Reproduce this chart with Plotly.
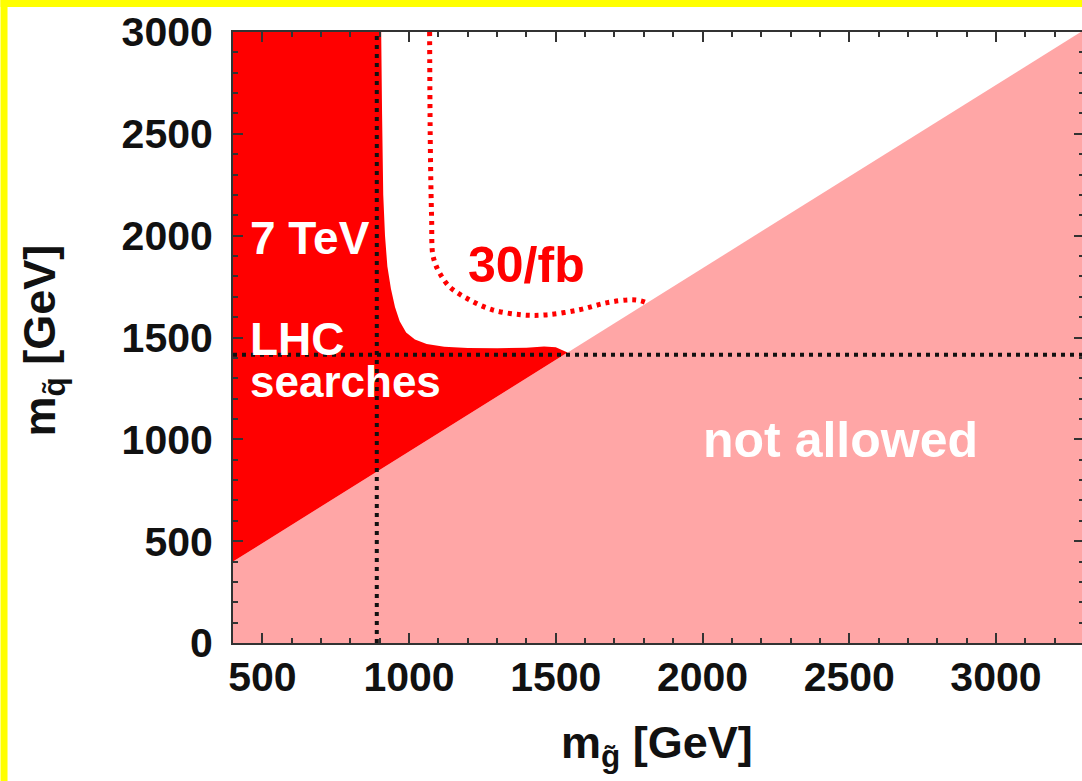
import plotly.graph_objects as go

# ---------------- data ----------------
# boundary of the kinematically "not allowed" region (m_squark vs m_gluino line)
diag_mg = [400, 3300]
diag_mq = [400, 3010]

# 7 TeV LHC exclusion boundary (gluino mass, squark mass)
lhc_mg = [905, 908, 912, 918, 926, 938, 952, 968, 990, 1020, 1060, 1120, 1200, 1300, 1400, 1460, 1500, 1540]
lhc_mq = [3000, 2600, 2200, 2000, 1850, 1740, 1650, 1580, 1525, 1490, 1468, 1455, 1449, 1447, 1450, 1456, 1452, 1426]

# 30/fb projected reach
fb30_mg = [1070, 1072, 1075, 1077, 1080, 1090, 1104, 1138, 1206, 1284, 1386, 1468, 1580, 1672, 1750, 1790, 1818]
fb30_mq = [3000, 2500, 2200, 2077, 1915, 1860, 1817, 1749, 1685, 1636, 1611, 1611, 1636, 1670, 1685, 1680, 1665]

# reference lines
ref_mg = 890
ref_mq = 1415

x_range = [400, 3300]
y_range = [0, 3000]
x_ticks = [500, 1000, 1500, 2000, 2500, 3000]
y_ticks = [0, 500, 1000, 1500, 2000, 2500, 3000]

# ---------------- styling ----------------
W, H = 1090, 781          # figure is slightly wider than the 1082 px window (cropped on the right)
ML, MR, MT, MB = 233, 4, 32, 138
RED = "#FF0000"
PINK = "#FFA6A6"
FONT = "Liberation Sans, Arial, Helvetica, sans-serif"

fig = go.Figure()

# not-allowed region (below the diagonal)
fig.add_trace(go.Scatter(
    x=[diag_mg[0]] + diag_mg + [diag_mg[-1]],
    y=[0] + diag_mq + [0],
    fill="toself", fillcolor=PINK, line=dict(width=0), mode="lines",
    hoverinfo="skip", showlegend=False))

# 7 TeV excluded region
fig.add_trace(go.Scatter(
    x=[x_range[0]] + lhc_mg + [diag_mg[0]],
    y=[y_range[1]] + lhc_mq + [diag_mq[0]],
    fill="toself", fillcolor=RED, line=dict(width=0), mode="lines",
    hoverinfo="skip", showlegend=False))

# black dotted reference lines
fig.add_trace(go.Scatter(x=[ref_mg, ref_mg], y=y_range, mode="lines",
                         line=dict(color="#111111", width=4, dash="4px,5px"),
                         hoverinfo="skip", showlegend=False))
fig.add_trace(go.Scatter(x=x_range, y=[ref_mq, ref_mq], mode="lines",
                         line=dict(color="#111111", width=4, dash="4px,5px"),
                         hoverinfo="skip", showlegend=False))

# 30/fb dotted curve
fig.add_trace(go.Scatter(x=fb30_mg, y=fb30_mq, mode="lines",
                         line=dict(color=RED, width=5, dash="4px,5px", shape="spline"),
                         hoverinfo="skip", showlegend=False))

txt_white = dict(family=FONT, size=46, color="white", weight="bold")
ann = [
    dict(x=451, y=1989, text="7 TeV", xanchor="left", yanchor="middle", font=txt_white),
    dict(x=451, y=1495, text="LHC", xanchor="left", yanchor="middle", font=txt_white),
    dict(x=451, y=1285, text="searches", xanchor="left", yanchor="middle",
         font=dict(family=FONT, size=44, color="white", weight="bold")),
    dict(x=1400, y=1855, text="30/fb", xanchor="center", yanchor="middle",
         font=dict(family=FONT, size=50, color=RED, weight="bold")),
    dict(x=2470, y=997, text="not allowed", xanchor="center", yanchor="middle",
         font=dict(family=FONT, size=50, color="white", weight="bold")),
]
for a in ann:
    a.update(xref="x", yref="y", showarrow=False)

pw = W - ML - MR
ph = H - MT - MB
def px_x(p):
    return (p - ML) / pw
def px_y(p):
    return (H - MB - p) / ph

title_font = dict(family=FONT, size=45, color="#111111", weight="bold")
ann.append(dict(x=px_x(658), y=px_y(745), xref="paper", yref="paper",
                text="m<sub>g\u0303</sub> [GeV]", showarrow=False,
                xanchor="center", yanchor="middle", font=title_font))
ann.append(dict(x=px_x(42), y=px_y(340), xref="paper", yref="paper",
                text="m<sub>q\u0303</sub> [GeV]", showarrow=False, textangle=-90,
                xanchor="center", yanchor="middle", font=title_font))

# yellow frame (left and top)
shapes = [
    dict(type="rect", xref="paper", yref="paper", x0=px_x(0), x1=px_x(7),
         y0=px_y(H), y1=px_y(0), fillcolor="#FFFF00", line=dict(width=0), layer="above"),
    dict(type="rect", xref="paper", yref="paper", x0=px_x(0), x1=px_x(W),
         y0=px_y(7), y1=px_y(0), fillcolor="#FFFF00", line=dict(width=0), layer="above"),
]

tick_font = dict(family=FONT, size=41, color="#111111", weight="bold")
axis_common = dict(
    showgrid=False, zeroline=False, showline=True, linecolor="#333333", linewidth=2,
    mirror="ticks", ticks="inside", ticklen=10, tickwidth=2, tickcolor="#333333",
    tickfont=tick_font,
    minor=dict(dtick=100, ticks="inside", ticklen=5, tickwidth=2, tickcolor="#333333", showgrid=False),
)

fig.update_layout(
    width=W, height=H,
    margin=dict(l=ML, r=MR, t=MT, b=MB, pad=0),
    paper_bgcolor="white", plot_bgcolor="white",
    xaxis=dict(range=x_range, tickvals=x_ticks, ticklabelstandoff=-3, **axis_common),
    yaxis=dict(range=y_range, tickvals=y_ticks, ticklabelstandoff=10, **axis_common),
    annotations=ann, shapes=shapes, showlegend=False,
)

fig.write_html(
    "out.html",
    config={"displayModeBar": False},
    default_width=f"{W}px",
    default_height=f"{H}px",
    post_script=("document.documentElement.style.overflow='hidden';"
                 "document.body.style.margin='0';"
                 "document.body.style.overflow='hidden';"),
)
